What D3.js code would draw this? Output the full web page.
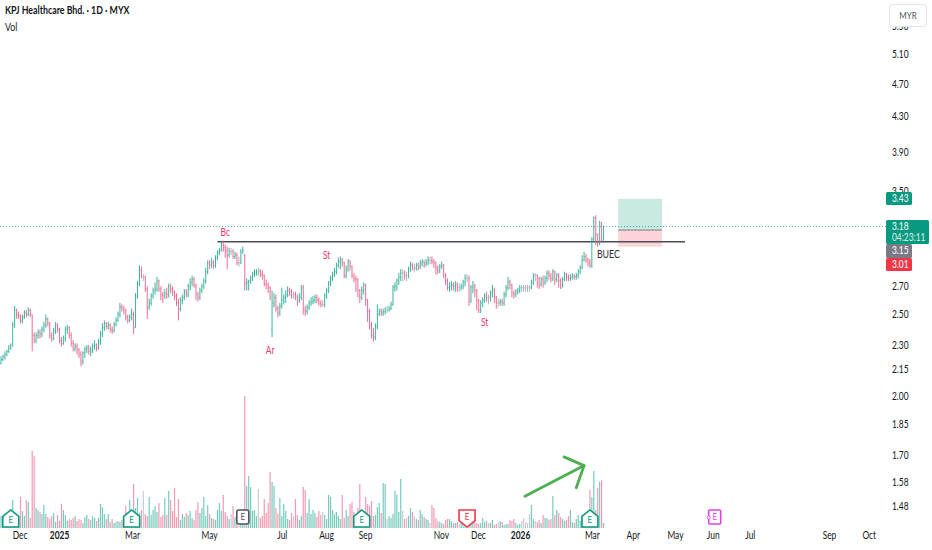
<!DOCTYPE html>
<html>
<head>
<meta charset="utf-8">
<script src="https://cdn.jsdelivr.net/npm/d3@7"></script>
<style>
html, body { margin: 0; padding: 0; background: #fff; overflow: hidden; }
text { font-family: Lato, sans-serif; }
</style>
</head>
<body>
<svg></svg>
<script>
const closes = [
  2.21,2.23,2.24,2.26,2.28,2.29,2.43,2.53,2.50,2.49,
  2.46,2.48,2.51,2.50,2.53,2.50,2.36,2.33,2.36,2.38,
  2.37,2.40,2.43,2.47,2.44,2.36,2.34,2.39,2.43,2.40,
  2.33,2.31,2.34,2.40,2.41,2.36,2.31,2.28,2.29,2.27,
  2.24,2.20,2.25,2.27,2.28,2.26,2.27,2.29,2.30,2.28,
  2.32,2.37,2.41,2.44,2.42,2.43,2.40,2.39,2.43,2.46,
  2.50,2.55,2.54,2.53,2.48,2.46,2.48,2.50,2.41,2.63,
  2.72,2.82,2.77,2.77,2.68,2.55,2.58,2.63,2.67,2.68,
  2.74,2.68,2.64,2.63,2.65,2.64,2.70,2.68,2.66,2.63,
  2.58,2.54,2.60,2.62,2.66,2.64,2.70,2.73,2.75,2.71,
  2.64,2.62,2.67,2.70,2.74,2.81,2.88,2.86,2.88,2.86,
  2.92,2.97,2.98,3.02,3.00,2.98,2.94,2.97,2.97,2.93,
  2.94,2.88,2.88,2.97,2.98,2.72,2.73,2.74,2.76,2.79,
  2.80,2.81,2.81,2.79,2.78,2.72,2.71,2.69,2.66,2.58,
  2.62,2.54,2.51,2.56,2.60,2.62,2.64,2.67,2.66,2.64,
  2.64,2.62,2.60,2.62,2.69,2.53,2.52,2.55,2.58,2.59,
  2.60,2.62,2.60,2.58,2.57,2.57,2.63,2.67,2.72,2.76,
  2.79,2.81,2.86,2.89,2.90,2.88,2.78,2.83,2.89,2.85,
  2.78,2.76,2.75,2.67,2.62,2.67,2.71,2.60,2.52,2.43,
  2.36,2.35,2.42,2.50,2.52,2.51,2.52,2.53,2.53,2.54,
  2.57,2.69,2.70,2.74,2.77,2.80,2.80,2.78,2.78,2.83,
  2.86,2.84,2.84,2.86,2.85,2.88,2.89,2.87,2.88,2.90,
  2.90,2.89,2.88,2.84,2.82,2.85,2.86,2.78,2.74,2.69,
  2.70,2.71,2.70,2.71,2.69,2.69,2.70,2.73,2.76,2.76,
  2.60,2.69,2.70,2.67,2.60,2.53,2.58,2.60,2.63,2.62,
  2.62,2.65,2.67,2.62,2.58,2.58,2.59,2.58,2.64,2.69,
  2.73,2.71,2.65,2.64,2.66,2.67,2.69,2.69,2.69,2.69,
  2.69,2.69,2.73,2.78,2.78,2.76,2.71,2.75,2.73,2.76,
  2.80,2.78,2.76,2.81,2.75,2.78,2.74,2.71,2.75,2.79,
  2.77,2.76,2.77,2.78,2.77,2.78,2.81,2.84,2.90,2.93,
  2.90,2.88,2.86,3.07,3.26,3.11,3.04,3.22,3.06,3.18
];
const opens = [
  2.19,2.21,2.23,2.24,2.26,2.28,2.30,2.43,2.53,2.50,
  2.49,2.46,2.48,2.51,2.50,2.53,2.50,2.36,2.33,2.36,
  2.38,2.37,2.40,2.43,2.47,2.44,2.36,2.34,2.39,2.43,
  2.40,2.33,2.31,2.34,2.40,2.41,2.36,2.31,2.28,2.29,
  2.27,2.24,2.20,2.25,2.27,2.28,2.26,2.27,2.29,2.30,
  2.28,2.32,2.37,2.41,2.44,2.42,2.43,2.40,2.39,2.43,
  2.46,2.50,2.55,2.54,2.53,2.48,2.46,2.48,2.50,2.41,
  2.63,2.72,2.82,2.77,2.77,2.68,2.55,2.58,2.63,2.67,
  2.68,2.74,2.68,2.64,2.63,2.65,2.64,2.70,2.68,2.66,
  2.63,2.58,2.54,2.60,2.62,2.66,2.64,2.70,2.73,2.75,
  2.71,2.64,2.62,2.67,2.70,2.74,2.81,2.88,2.86,2.88,
  2.86,2.92,2.97,2.98,3.02,3.00,2.98,2.94,2.97,2.97,
  2.93,2.94,2.88,2.88,2.97,2.94,2.72,2.73,2.74,2.76,
  2.79,2.80,2.81,2.81,2.79,2.78,2.72,2.71,2.69,2.40,
  2.58,2.62,2.54,2.51,2.56,2.60,2.62,2.64,2.67,2.66,
  2.64,2.64,2.62,2.60,2.62,2.69,2.53,2.52,2.55,2.58,
  2.59,2.60,2.62,2.60,2.58,2.57,2.57,2.63,2.67,2.72,
  2.76,2.79,2.81,2.86,2.89,2.90,2.88,2.78,2.83,2.89,
  2.85,2.78,2.76,2.75,2.67,2.62,2.67,2.71,2.60,2.52,
  2.43,2.36,2.35,2.42,2.50,2.52,2.51,2.52,2.53,2.53,
  2.54,2.57,2.69,2.70,2.74,2.77,2.80,2.80,2.78,2.78,
  2.83,2.86,2.84,2.84,2.86,2.85,2.88,2.89,2.87,2.88,
  2.90,2.90,2.89,2.88,2.84,2.82,2.85,2.86,2.78,2.74,
  2.69,2.70,2.71,2.70,2.71,2.69,2.69,2.70,2.73,2.76,
  2.76,2.60,2.69,2.70,2.67,2.60,2.53,2.58,2.60,2.63,
  2.62,2.62,2.65,2.67,2.62,2.58,2.58,2.59,2.58,2.64,
  2.69,2.73,2.71,2.65,2.64,2.66,2.67,2.69,2.69,2.69,
  2.69,2.69,2.69,2.73,2.78,2.78,2.76,2.71,2.75,2.73,
  2.76,2.80,2.78,2.76,2.81,2.75,2.78,2.74,2.71,2.75,
  2.79,2.77,2.76,2.77,2.78,2.77,2.78,2.81,2.84,2.90,
  2.93,2.90,2.88,2.86,3.07,3.26,3.11,3.04,3.20,3.07
];
const highs = [
  2.23,2.24,2.26,2.27,2.30,2.31,2.45,2.56,2.54,2.52,
  2.50,2.50,2.53,2.53,2.55,2.54,2.50,2.38,2.38,2.40,
  2.40,2.42,2.45,2.50,2.48,2.45,2.38,2.41,2.45,2.44,
  2.41,2.35,2.36,2.42,2.43,2.42,2.38,2.33,2.31,2.31,
  2.28,2.26,2.26,2.29,2.30,2.30,2.29,2.31,2.33,2.31,
  2.34,2.39,2.44,2.46,2.45,2.45,2.44,2.42,2.45,2.48,
  2.52,2.58,2.57,2.56,2.54,2.50,2.50,2.54,2.52,2.65,
  2.74,2.86,2.85,2.79,2.78,2.70,2.61,2.65,2.69,2.73,
  2.77,2.75,2.70,2.66,2.68,2.69,2.72,2.72,2.70,2.67,
  2.65,2.61,2.62,2.64,2.68,2.68,2.72,2.76,2.78,2.77,
  2.72,2.66,2.69,2.72,2.76,2.84,2.90,2.90,2.92,2.90,
  2.94,2.98,3.00,3.05,3.06,3.03,3.01,3.00,3.00,2.99,
  2.97,2.96,2.93,2.99,3.01,2.95,2.76,2.75,2.78,2.81,
  2.83,2.83,2.84,2.83,2.82,2.79,2.75,2.73,2.70,2.67,
  2.65,2.64,2.56,2.58,2.69,2.64,2.67,2.70,2.69,2.68,
  2.66,2.66,2.64,2.65,2.71,2.71,2.56,2.57,2.60,2.62,
  2.63,2.64,2.64,2.62,2.60,2.60,2.65,2.69,2.74,2.78,
  2.81,2.84,2.88,2.92,2.93,2.92,2.89,2.86,2.91,2.90,
  2.86,2.80,2.78,2.76,2.68,2.70,2.73,2.72,2.61,2.54,
  2.45,2.41,2.44,2.57,2.54,2.54,2.54,2.55,2.56,2.56,
  2.59,2.71,2.73,2.76,2.80,2.83,2.83,2.82,2.81,2.85,
  2.89,2.88,2.87,2.88,2.88,2.90,2.91,2.90,2.91,2.93,
  2.93,2.93,2.91,2.89,2.86,2.87,2.89,2.87,2.80,2.76,
  2.73,2.74,2.73,2.74,2.73,2.72,2.72,2.75,2.79,2.79,
  2.78,2.71,2.74,2.72,2.68,2.61,2.60,2.62,2.65,2.66,
  2.64,2.67,2.71,2.69,2.63,2.61,2.61,2.61,2.66,2.71,
  2.77,2.75,2.72,2.67,2.68,2.69,2.71,2.71,2.71,2.71,
  2.71,2.71,2.75,2.80,2.80,2.79,2.77,2.77,2.78,2.78,
  2.82,2.82,2.80,2.83,2.82,2.80,2.80,2.76,2.77,2.81,
  2.80,2.79,2.79,2.80,2.79,2.80,2.83,2.86,2.94,2.97,
  2.95,2.92,2.91,3.09,3.27,3.28,3.12,3.23,3.22,3.19
];
const lows = [
  2.18,2.20,2.21,2.23,2.25,2.27,2.29,2.41,2.47,2.47,
  2.44,2.44,2.47,2.48,2.49,2.48,2.26,2.31,2.31,2.34,
  2.34,2.35,2.38,2.41,2.42,2.34,2.32,2.33,2.37,2.38,
  2.31,2.29,2.30,2.32,2.37,2.34,2.29,2.26,2.26,2.24,
  2.22,2.17,2.18,2.22,2.25,2.24,2.23,2.25,2.27,2.26,
  2.27,2.30,2.35,2.39,2.40,2.40,2.38,2.37,2.38,2.42,
  2.45,2.48,2.52,2.50,2.46,2.44,2.45,2.46,2.37,2.41,
  2.61,2.70,2.76,2.74,2.66,2.47,2.53,2.56,2.61,2.64,
  2.66,2.66,2.60,2.58,2.61,2.61,2.62,2.65,2.63,2.60,
  2.56,2.46,2.52,2.57,2.60,2.62,2.62,2.67,2.70,2.69,
  2.60,2.59,2.60,2.65,2.68,2.72,2.79,2.83,2.84,2.83,
  2.84,2.90,2.94,2.97,2.97,2.92,2.83,2.92,2.94,2.91,
  2.91,2.86,2.85,2.87,2.95,2.67,2.67,2.67,2.72,2.74,
  2.77,2.78,2.78,2.77,2.75,2.70,2.68,2.65,2.60,2.35,
  2.55,2.52,2.48,2.49,2.54,2.57,2.58,2.62,2.63,2.61,
  2.61,2.60,2.56,2.58,2.60,2.50,2.49,2.50,2.53,2.56,
  2.57,2.58,2.58,2.56,2.55,2.55,2.55,2.61,2.65,2.70,
  2.74,2.77,2.79,2.84,2.83,2.85,2.76,2.76,2.81,2.82,
  2.76,2.73,2.66,2.62,2.58,2.60,2.64,2.56,2.45,2.40,
  2.34,2.32,2.33,2.40,2.49,2.49,2.49,2.50,2.51,2.52,
  2.53,2.56,2.66,2.67,2.71,2.74,2.74,2.75,2.74,2.76,
  2.81,2.82,2.81,2.82,2.82,2.83,2.85,2.84,2.85,2.86,
  2.87,2.87,2.84,2.79,2.79,2.80,2.83,2.76,2.71,2.67,
  2.66,2.67,2.67,2.66,2.66,2.66,2.67,2.68,2.70,2.73,
  2.56,2.58,2.65,2.62,2.53,2.51,2.51,2.55,2.58,2.59,
  2.57,2.59,2.62,2.58,2.54,2.55,2.56,2.56,2.56,2.62,
  2.67,2.68,2.62,2.61,2.62,2.64,2.65,2.66,2.66,2.66,
  2.66,2.66,2.68,2.71,2.74,2.69,2.68,2.70,2.69,2.71,
  2.73,2.75,2.73,2.74,2.71,2.73,2.69,2.68,2.69,2.74,
  2.74,2.74,2.74,2.75,2.75,2.75,2.76,2.79,2.83,2.89,
  2.88,2.85,2.84,2.84,3.04,3.02,3.01,3.02,3.04,3.06
];
const volumes = [
  12,9,14,7,11,10,28,16,8,12,
  31,17,12,28,26,10,77,72,20,18,
  16,14,23,14,11,9,12,15,6,13,
  7,24,18,13,7,9,8,10,12,7,
  9,8,5,11,13,9,8,12,10,7,
  10,24,21,14,9,14,6,9,5,6,
  7,6,8,7,22,13,28,16,44,20,
  30,15,18,37,14,12,31,13,18,22,
  16,25,11,13,30,13,37,28,17,40,
  11,29,8,14,11,15,13,17,10,8,
  18,26,15,20,31,12,23,14,10,9,
  8,18,25,17,33,16,12,9,14,22,
  11,15,9,12,16,132,42,52,41,17,
  18,12,39,10,12,29,15,25,56,46,
  42,20,14,30,12,24,17,9,8,15,
  12,29,13,8,12,41,38,15,29,14,
  18,15,11,17,13,16,13,9,33,31,
  18,14,16,12,9,33,10,18,12,24,
  26,16,11,20,44,18,14,31,24,22,
  27,12,13,21,25,15,45,44,9,12,
  10,14,37,33,16,49,17,9,10,12,
  20,16,12,9,8,18,14,11,9,8,
  5,23,20,10,7,6,5,4,8,9,
  9,7,5,5,6,4,5,4,3,5,
  8,4,9,6,5,4,5,10,6,7,
  5,5,8,3,4,6,7,6,3,4,
  4,8,7,9,5,3,4,7,10,6,
  5,14,23,9,7,6,8,5,13,10,
  10,8,9,32,13,18,15,11,9,7,
  8,12,18,6,5,9,13,7,10,12,
  14,11,38,31,57,18,40,46,48,5
];

const priceTicks = [5.50, 5.10, 4.70, 4.30, 3.90, 3.50, 2.70, 2.50, 2.30, 2.15, 2.00, 1.85, 1.70, 1.58, 1.48];
const timeTicks = [9.5, 29.8, 67.2, 106.7, 144, 166.7, 186.7, 225.6, 244.6, 266.2, 303, 324, 345.6, 365, 384, 424.6, 445];
const timeLabels = ["Dec", "2025", "Mar", "May", "Jul", "Aug", "Sep", "Nov", "Dec", "2026", "Mar", "Apr", "May", "Jun", "Jul", "Sep", "Oct"];
const yearLabels = ["2025", "2026"];

const waveLabels = ["Bc", "Ar", "St", "St"];
const waveIndex = [115, 138, 167, 248];
const wavePrice = [3.125, 2.26, 2.93, 2.44];

const earningsIndex = [5, 67, 124, 185, 239, 302, 366];
const earningsType = ["up", "up", "flat", "up", "down", "up", "future"];

const lastPrice = 3.18;
const targetPrice = 3.43;
const entryPrice = 3.15;
const stopPrice = 3.01;
const breakoutPrice = 3.05;

const width = 932;
const height = 550;
const barStep = 1.95;

const green = "#22ab94";
const red = "#ee5a85";
const gray = "#a9acb4";

const svg = d3.select("svg").attr("width", width).attr("height", height);

const xScale = d3.scaleLinear().domain([0, 100]).range([1, 1 + 100 * barStep]);
// log price scale is shared by the candles and the right axis
const yScale = d3.scaleLog().domain([5.10, 1.48]).range([54, 506]);
const volScale = d3.scaleLinear().domain([0, d3.max(volumes)]).range([528, 396]);

const barColor = (i) => closes[i] > opens[i] ? green : closes[i] < opens[i] ? red : gray;

const drawPosition = () => {
  const left = xScale(316.5);
  const right = xScale(339);
  svg.append("rect").attr("x", left).attr("width", right - left)
     .attr("y", yScale(targetPrice)).attr("height", yScale(entryPrice) - yScale(targetPrice))
     .attr("fill", "#089981").attr("opacity", 0.22);
  svg.append("rect").attr("x", left).attr("width", right - left)
     .attr("y", yScale(entryPrice)).attr("height", yScale(stopPrice) - yScale(entryPrice))
     .attr("fill", "#f23645").attr("opacity", 0.22);
  svg.append("line").attr("x1", left).attr("x2", right)
     .attr("y1", yScale(entryPrice)).attr("y2", yScale(entryPrice))
     .attr("stroke", "#787b86").attr("stroke-width", 1);
};

const drawLevels = () => {
  svg.append("line").attr("x1", 0).attr("x2", 886)
     .attr("y1", yScale(lastPrice)).attr("y2", yScale(lastPrice))
     .attr("stroke", "#089981").attr("stroke-width", 1).attr("stroke-dasharray", "1 2").attr("opacity", 0.7);
  svg.append("line").attr("x1", xScale(111)).attr("x2", xScale(350.8))
     .attr("y1", yScale(breakoutPrice)).attr("y2", yScale(breakoutPrice))
     .attr("stroke", "#4a4d55").attr("stroke-width", 1.4);
};

const drawVolume = () => {
  svg.append("g").selectAll("rect").data(volumes).enter().append("rect")
     .attr("x", (d, i) => xScale(i) - 0.6)
     .attr("width", 1.2)
     .attr("y", (d) => volScale(d))
     .attr("height", (d) => 528 - volScale(d))
     .attr("fill", (d, i) => barColor(i))
     .attr("opacity", 0.62);
};

const drawBars = () => {
  const bars = svg.append("g").selectAll("g").data(closes).enter().append("g")
                  .attr("stroke", (d, i) => barColor(i));
  bars.append("line")
      .attr("stroke-width", 0.9)
      .attr("x1", (d, i) => xScale(i)).attr("x2", (d, i) => xScale(i))
      .attr("y1", (d, i) => yScale(highs[i])).attr("y2", (d, i) => yScale(lows[i]));
  bars.append("line")
      .attr("stroke-width", 0.6)
      .attr("x1", (d, i) => xScale(i) - 0.8).attr("x2", (d, i) => xScale(i))
      .attr("y1", (d, i) => yScale(opens[i])).attr("y2", (d, i) => yScale(opens[i]));
  bars.append("line")
      .attr("stroke-width", 0.6)
      .attr("x1", (d, i) => xScale(i)).attr("x2", (d, i) => xScale(i) + 0.8)
      .attr("y1", (d, i) => yScale(d)).attr("y2", (d, i) => yScale(d));
};

const drawAnnotations = () => {
  waveLabels.forEach((t, i) => {
    svg.append("text").attr("x", xScale(waveIndex[i])).attr("y", yScale(wavePrice[i]))
       .attr("text-anchor", "middle").attr("dominant-baseline", "middle")
       .attr("font-size", 10.5).attr("fill", "#e4386d").text(t);
  });
  svg.append("text").attr("x", xScale(311.5)).attr("y", yScale(2.94))
     .attr("text-anchor", "middle").attr("dominant-baseline", "middle")
     .attr("font-size", 11).attr("fill", "#2a2e39").text("BUEC");

  const arrow = d3.line().x((d) => xScale(d[0])).y((d) => yScale(d[1]));
  const arrowGreen = "#4caf50";
  svg.append("path").attr("d", arrow([[268.7, 1.52], [299, 1.653]]))
     .attr("fill", "none").attr("stroke", arrowGreen).attr("stroke-width", 2.8).attr("stroke-linecap", "round");
  svg.append("path").attr("d", arrow([[288.7, 1.693], [299, 1.653], [295, 1.556]]))
     .attr("fill", "none").attr("stroke", arrowGreen).attr("stroke-width", 2.8)
     .attr("stroke-linecap", "round").attr("stroke-linejoin", "round");
};

const earningsShapes = {
  up: { path: "M-8,17V6.5L0,0L8,6.5V17Z", color: "#089981", ty: 10.5 },
  down: { path: "M-8,0V10.5L0,17L8,10.5V0Z", color: "#f23645", ty: 7 },
  flat: { path: "M-6,2Q-6,0 -4,0H4Q6,0 6,2V12Q6,14 4,14H-4Q-6,14 -6,12Z", color: "#50535e", ty: 7.5 },
  future: { path: "M-6,1Q-6,0 -5,0H5Q6,0 6,1V13Q6,14 5,14H-5Q-6,14 -6,13Z", color: "#e040e8", ty: 7.5 }
};

const drawEarnings = () => {
  earningsIndex.forEach((idx, i) => {
    const type = earningsType[i];
    const shape = earningsShapes[type];
    const g = svg.append("g").attr("transform", "translate(" + xScale(idx) + ",510)");
    g.append("path").attr("d", shape.path)
     .attr("fill", "#fff").attr("stroke", shape.color).attr("stroke-width", 1.6);
    g.append("text").attr("y", shape.ty).attr("text-anchor", "middle").attr("dominant-baseline", "middle")
     .attr("font-size", 10).attr("fill", shape.color).text("E");
    if (type === "future") {
      g.append("circle").attr("cx", -6).attr("cy", 7.5).attr("r", 1.6)
       .attr("fill", "#fff").attr("stroke", shape.color).attr("stroke-width", 0.8);
    }
  });
};

const drawAxes = () => {
  const xAxis = d3.axisBottom(xScale).tickValues(timeTicks)
                  .tickFormat((d, i) => timeLabels[i]).tickSize(0).tickPadding(0);
  const xg = svg.append("g").attr("transform", "translate(0,532)").call(xAxis);
  xg.select(".domain").remove();
  xg.selectAll("text").attr("font-size", 10.5).attr("fill", "#131722")
    .attr("font-weight", (d, i) => yearLabels.includes(timeLabels[i]) ? 700 : 400)
    .style("font-family", "Lato, sans-serif");

  const yAxis = d3.axisRight(yScale).tickValues(priceTicks)
                  .tickFormat(d3.format(".2f")).tickSize(0).tickPadding(0);
  const yg = svg.append("g").attr("transform", "translate(892,0)").call(yAxis);
  yg.select(".domain").remove();
  yg.selectAll("text").attr("font-size", 10.5).attr("fill", "#131722")
    .style("font-family", "Lato, sans-serif");
};

const priceBox = (y, h, w, fill, lines) => {
  svg.append("rect").attr("x", 886).attr("y", y).attr("width", w).attr("height", h)
     .attr("rx", 1.5).attr("fill", fill);
  lines.forEach((t, i) => {
    svg.append("text").attr("x", 892).attr("y", y + 7 + i * 11)
       .attr("dominant-baseline", "middle").attr("font-size", 10.5).attr("fill", "#fff")
       .attr("opacity", i ? 0.85 : 1).text(t);
  });
};

const drawHeader = () => {
  svg.append("text").attr("x", 5).attr("y", 14).attr("font-size", 11).attr("font-weight", 700)
     .attr("fill", "#131722").text("KPJ Healthcare Bhd. · 1D · MYX");
  svg.append("text").attr("x", 5).attr("y", 31).attr("font-size", 11)
     .attr("fill", "#131722").text("Vol");
  svg.append("rect").attr("x", 889.5).attr("y", 4.5).attr("width", 37).attr("height", 22)
     .attr("rx", 3).attr("fill", "#fff").attr("stroke", "#e0e3eb");
  svg.append("text").attr("x", 908).attr("y", 16).attr("text-anchor", "middle")
     .attr("dominant-baseline", "middle").attr("font-size", 10).attr("fill", "#50535e").text("MYR");
};

// the reference font is narrower than anything installed, so squeeze the glyphs
const condenseText = () => {
  svg.selectAll("text").each(function () {
    const t = d3.select(this);
    t.attr("textLength", this.getComputedTextLength() * 0.8).attr("lengthAdjust", "spacingAndGlyphs");
  });
};

drawPosition();
drawLevels();
drawVolume();
drawBars();
drawEarnings();
drawAnnotations();
drawAxes();
drawHeader();
priceBox(192, 13, 26, "#089981", ["3.43"]);
priceBox(244, 14, 26, "#787b86", ["3.15"]);
priceBox(258, 13, 26, "#f23645", ["3.01"]);
priceBox(220, 24, 43, "#089981", ["3.18", "04:23:11"]);
condenseText();
</script>
</body>
</html>
